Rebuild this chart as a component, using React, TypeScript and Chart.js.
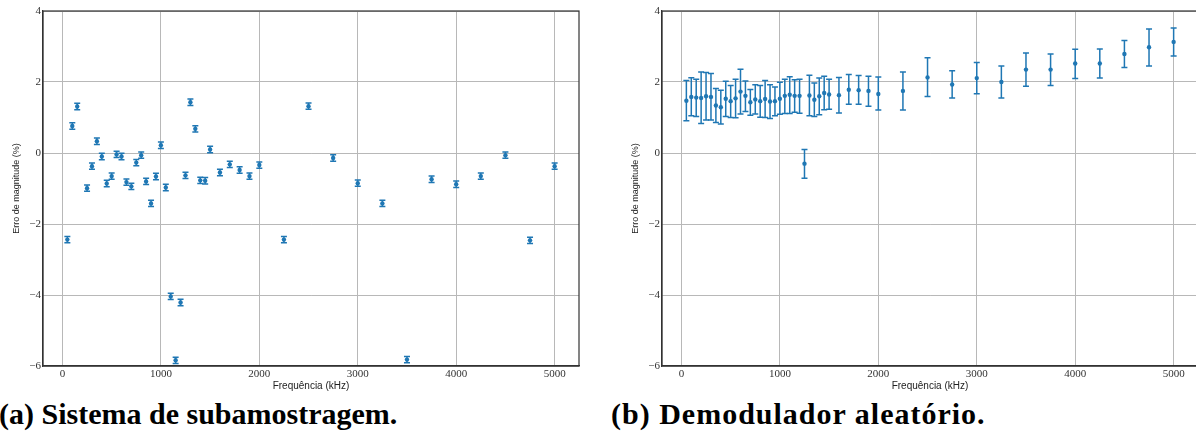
import React, { useEffect, useRef } from 'react';
import { Chart, registerables } from 'chart.js';

Chart.register(...registerables);

// ---------- data ----------
const freqLeft = [50, 100, 150, 250, 300, 350, 400, 450, 500, 550, 600, 650, 700, 750, 800, 850, 900, 950, 1000, 1050, 1100, 1150, 1200, 1250, 1300, 1350, 1400, 1450, 1500, 1600, 1700, 1800, 1900, 2000, 2250, 2500, 2750, 3000, 3250, 3500, 3750, 4000, 4250, 4500, 4750, 5000];
const errLeft = [-2.44, 0.76, 1.31, -0.99, -0.37, 0.33, -0.10, -0.86, -0.65, -0.04, -0.10, -0.82, -0.94, -0.27, -0.06, -0.80, -1.42, -0.66, 0.22, -0.97, -4.04, -5.84, -4.21, -0.63, 1.43, 0.68, -0.77, -0.78, 0.10, -0.55, -0.32, -0.48, -0.65, -0.34, -2.44, 1.32, -0.14, -0.85, -1.42, -5.82, -0.74, -0.88, -0.65, -0.06, -2.46, -0.37];
const errLeftHalf = [0.09, 0.09, 0.09, 0.09, 0.09, 0.09, 0.09, 0.09, 0.09, 0.09, 0.09, 0.09, 0.09, 0.09, 0.09, 0.09, 0.09, 0.09, 0.09, 0.09, 0.09, 0.09, 0.09, 0.09, 0.09, 0.09, 0.09, 0.09, 0.09, 0.09, 0.09, 0.09, 0.09, 0.09, 0.09, 0.09, 0.09, 0.09, 0.09, 0.09, 0.09, 0.09, 0.09, 0.09, 0.09, 0.09];

const freqRight = [50, 100, 150, 200, 250, 300, 350, 400, 450, 500, 550, 600, 650, 700, 750, 800, 850, 900, 950, 1000, 1050, 1100, 1150, 1200, 1250, 1300, 1350, 1400, 1450, 1500, 1600, 1700, 1800, 1900, 2000, 2250, 2500, 2750, 3000, 3250, 3500, 3750, 4000, 4250, 4500, 4750, 5000];
const errRight = [1.47, 1.58, 1.56, 1.55, 1.60, 1.58, 1.34, 1.29, 1.53, 1.46, 1.54, 1.73, 1.61, 1.43, 1.51, 1.46, 1.52, 1.45, 1.46, 1.53, 1.61, 1.64, 1.61, 1.61, -0.30, 1.62, 1.50, 1.60, 1.69, 1.65, 1.63, 1.78, 1.77, 1.75, 1.66, 1.75, 2.13, 1.93, 2.11, 2.00, 2.35, 2.35, 2.52, 2.52, 2.79, 2.98, 3.13];
const errRightHigh = [2.04, 2.12, 2.08, 2.28, 2.27, 2.24, 1.82, 1.77, 2.02, 1.90, 2.08, 2.36, 2.03, 1.79, 1.92, 1.90, 2.04, 1.92, 1.86, 1.99, 2.08, 2.15, 2.06, 2.08, 0.10, 2.19, 1.97, 2.11, 2.16, 2.08, 2.13, 2.21, 2.18, 2.16, 2.14, 2.28, 2.68, 2.32, 2.55, 2.45, 2.82, 2.79, 2.92, 2.93, 3.17, 3.49, 3.52];
const errRightLow = [0.91, 1.05, 1.03, 0.83, 0.93, 0.93, 0.86, 0.82, 1.03, 1.00, 0.99, 1.10, 1.17, 1.06, 1.10, 1.01, 1.00, 0.97, 1.05, 1.09, 1.11, 1.11, 1.15, 1.12, -0.71, 1.05, 1.03, 1.08, 1.22, 1.23, 1.13, 1.37, 1.37, 1.32, 1.21, 1.21, 1.59, 1.55, 1.67, 1.55, 1.88, 1.90, 2.10, 2.11, 2.41, 2.45, 2.73];

const xTicks = [0, 1000, 2000, 3000, 4000, 5000];
const yTicks = [-6, -4, -2, 0, 2, 4];
const xTitle = 'Frequência (kHz)';
const yTitle = 'Erro de magnitude (%)';
const captionA = '(a) Sistema de subamostragem.';
const captionB = '(b) Demodulador aleatório.';

// ---------- styles ----------
const BLUE = '#1f77b4';
const GRID = '#b8b8b8';
const SPINE = '#333333';
const TICKFONT = 'Liberation Serif';
const LABELFONT = 'Liberation Sans';

const errorBarPlugin = {
  id: 'errorBars',
  beforeDatasetsDraw(chart: any) {
    const ctx = chart.ctx;
    const xs = chart.scales.x;
    const ys = chart.scales.y;
    const pts = chart.data.datasets[0].data as any[];
    ctx.save();
    ctx.strokeStyle = BLUE;
    ctx.lineWidth = 1.5;
    for (const p of pts) {
      const px = xs.getPixelForValue(p.x);
      const y1 = ys.getPixelForValue(p.lo);
      const y2 = ys.getPixelForValue(p.hi);
      ctx.beginPath();
      ctx.moveTo(px, y1);
      ctx.lineTo(px, y2);
      ctx.moveTo(px - 3, y1);
      ctx.lineTo(px + 3, y1);
      ctx.moveTo(px - 3, y2);
      ctx.lineTo(px + 3, y2);
      ctx.stroke();
    }
    ctx.restore();
  },
};

const framePlugin = {
  id: 'frame',
  afterDraw(chart: any) {
    const { ctx, chartArea } = chart;
    ctx.save();
    ctx.strokeStyle = SPINE;
    ctx.lineWidth = 1.2;
    ctx.strokeRect(chartArea.left, chartArea.top, chartArea.right - chartArea.left, chartArea.bottom - chartArea.top);
    ctx.restore();
  },
};

const fmt = (v: number) => (v < 0 ? '\u2212' + Math.abs(v) : String(v));

function ErrChart({ xs, ys, lo, hi, left }: { xs: number[]; ys: number[]; lo: number[]; hi: number[]; left: number }) {
  const ref = useRef<HTMLCanvasElement | null>(null);
  useEffect(() => {
    const canvas = ref.current;
    if (!canvas) return;
    const data = xs.map((x, i) => ({ x, y: ys[i], lo: lo[i], hi: hi[i] }));
    const chart = new Chart(canvas, {
      type: 'scatter',
      data: {
        datasets: [
          {
            data,
            backgroundColor: BLUE,
            borderColor: BLUE,
            borderWidth: 0,
            pointRadius: 2.2,
            pointHoverRadius: 2.2,
          },
        ],
      },
      options: {
        animation: false,
        responsive: false,
        events: [],
        layout: { padding: { top: 11, right: 6, left: 0, bottom: 0 } },
        plugins: { legend: { display: false }, tooltip: { enabled: false } },
        scales: {
          x: {
            type: 'linear',
            min: -197.5,
            max: 5247.5,
            afterBuildTicks: (s: any) => {
              s.ticks = xTicks.map((v) => ({ value: v }));
            },
            afterFit: (s: any) => {
              s.height = 29;
            },
            grid: { color: GRID, lineWidth: 1, drawTicks: false },
            border: { display: true, color: SPINE, width: 1.2 },
            ticks: {
              padding: 2,
              maxRotation: 0,
              autoSkip: false,
              color: '#333',
              font: { family: TICKFONT, size: 11 },
              callback: (v: any) => fmt(Number(v)),
            },
            title: {
              display: true,
              text: xTitle,
              color: '#222',
              font: { family: LABELFONT, size: 10 },
              padding: { top: 0, bottom: 3 },
            },
          },
          y: {
            type: 'linear',
            min: -6,
            max: 4,
            afterBuildTicks: (s: any) => {
              s.ticks = yTicks.map((v) => ({ value: v }));
            },
            afterFit: (s: any) => {
              s.width = 43;
            },
            grid: { color: GRID, lineWidth: 1, drawTicks: false },
            border: { display: true, color: SPINE, width: 1.2 },
            ticks: {
              padding: 2,
              color: '#333',
              font: { family: TICKFONT, size: 11 },
              callback: (v: any) => fmt(Number(v)),
            },
            title: {
              display: true,
              text: yTitle,
              color: '#222',
              font: { family: LABELFONT, size: 9 },
              padding: { top: 11, bottom: 0 },
            },
          },
        },
      },
      plugins: [errorBarPlugin, framePlugin],
    } as any);
    return () => chart.destroy();
  }, []);
  return (
    <canvas
      ref={ref}
      width={585}
      height={395}
      style={{ position: 'absolute', left, top: 0, width: 585, height: 395 }}
    />
  );
}

export default function App() {
  const loLeft = errLeft.map((v, i) => v - errLeftHalf[i]);
  const hiLeft = errLeft.map((v, i) => v + errLeftHalf[i]);
  const capStyle: React.CSSProperties = {
    position: 'absolute',
    top: 396,
    fontFamily: 'Liberation Serif',
    fontWeight: 'bold',
    fontSize: 30,
    lineHeight: '36px',
    whiteSpace: 'nowrap',
    color: '#000',
  };
  return (
    <div style={{ position: 'fixed', left: 0, top: 0, width: 1196, height: 443, overflow: 'hidden', background: '#fff' }}>
      <ErrChart xs={freqLeft} ys={errLeft} lo={loLeft} hi={hiLeft} left={0} />
      <ErrChart xs={freqRight} ys={errRight} lo={errRightLow} hi={errRightHigh} left={619} />
      <div style={{ ...capStyle, left: -1 }}>{captionA}</div>
      <div style={{ ...capStyle, left: 611, letterSpacing: 1 }}>{captionB}</div>
    </div>
  );
}
